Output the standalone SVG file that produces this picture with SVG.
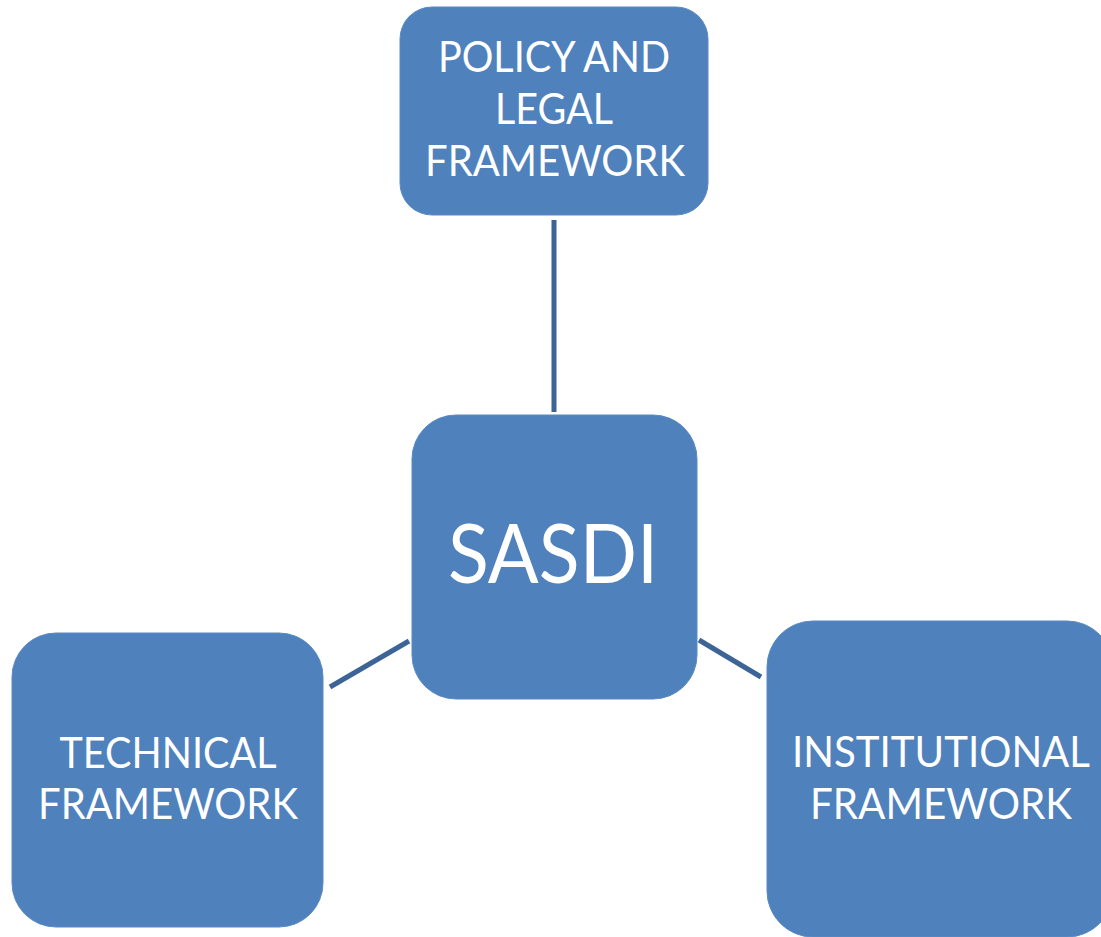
<svg xmlns="http://www.w3.org/2000/svg" width="1101" height="937" viewBox="0 0 1101 937">
  <style>
    .box { fill: #4f81bd; stroke: #5a8ac4; stroke-width: 1; }
    .lbl { fill: #ffffff; font-family: Lato, "Open Sans", "Liberation Sans", sans-serif; font-size: 42px; text-anchor: middle; }
    .big { font-size: 81px; }
    .link { stroke: #3c6496; stroke-width: 5; fill: none; }
  </style>
  <rect width="1101" height="937" fill="#ffffff"/>

  <g id="connectors">
    <line class="link" x1="554" y1="220" x2="554" y2="412"/>
    <line class="link" x1="330" y1="687" x2="409" y2="641"/>
    <line class="link" x1="699" y1="640" x2="761" y2="677"/>
  </g>

  <g id="policy">
    <rect class="box" x="400" y="7" width="308" height="208" rx="32"/>
    <text class="lbl" x="554" y="72" textLength="232" lengthAdjust="spacingAndGlyphs">POLICY AND</text>
    <text class="lbl" x="554" y="124" textLength="118" lengthAdjust="spacingAndGlyphs">LEGAL</text>
    <text class="lbl" x="555" y="176" textLength="260" lengthAdjust="spacingAndGlyphs">FRAMEWORK</text>
  </g>

  <g id="sasdi">
    <rect class="box" x="412" y="415" width="285" height="284" rx="44"/>
    <text class="lbl big" x="553" y="583" textLength="210" lengthAdjust="spacingAndGlyphs">SASDI</text>
  </g>

  <g id="technical">
    <rect class="box" x="12" y="633" width="311" height="294" rx="44"/>
    <text class="lbl" x="168" y="768" textLength="217" lengthAdjust="spacingAndGlyphs">TECHNICAL</text>
    <text class="lbl" x="168" y="819" textLength="260" lengthAdjust="spacingAndGlyphs">FRAMEWORK</text>
  </g>

  <g id="institutional">
    <rect class="box" x="767" y="621" width="346" height="316" rx="46"/>
    <text class="lbl" x="941" y="767" textLength="298" lengthAdjust="spacingAndGlyphs">INSTITUTIONAL</text>
    <text class="lbl" x="941" y="819" textLength="262" lengthAdjust="spacingAndGlyphs">FRAMEWORK</text>
  </g>
</svg>
